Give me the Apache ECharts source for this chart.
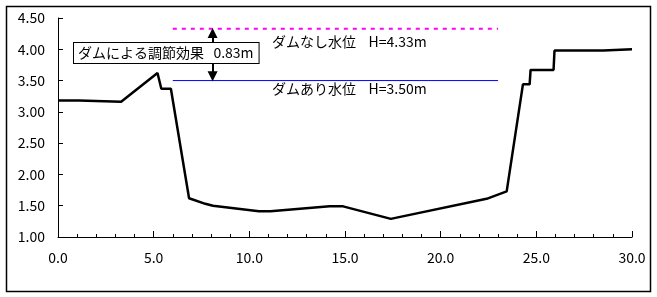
<!DOCTYPE html>
<html>
<head>
<meta charset="utf-8">
<script src="https://cdn.jsdelivr.net/npm/echarts@6/dist/echarts.min.js"></script>
<style>
  html, body { margin: 0; padding: 0; background: #fff; }
  #main { width: 657px; height: 297px; }
</style>
</head>
<body>
<div id="main"></div>
<script>
// 河床断面（距離, 標高）
var profileX = [0, 1.1, 1.15, 3.3, 5.2, 5.4, 5.9, 6.85, 7.7, 8.1, 10.5, 11.1, 14.2, 14.9, 17.4, 17.7, 22.4, 23.45, 24.3, 24.65, 24.7, 25.9, 25.95, 28.5, 28.55, 30.0];
var profileY = [3.18, 3.18, 3.16, 3.16, 3.62, 3.37, 3.37, 1.62, 1.53, 1.50, 1.41, 1.41, 1.49, 1.49, 1.29, 1.31, 1.61, 1.73, 3.44, 3.44, 3.67, 3.67, 3.98, 3.98, 4.00, 4.00];

// 水位線
var levelX = [6, 23];
var noDamLevel = 4.33;
var damLevel = 3.50;

// 調節効果の矢印
var arrowX = 8.08;
var arrowY = [4.26, 3.57];

var FONT = '"Noto Sans CJK JP", sans-serif';

var profileData = [];
for (var i = 0; i < profileX.length; i++) {
    profileData.push([profileX[i], profileY[i]]);
}

var chartDom = document.getElementById('main');
var myChart = echarts.init(chartDom);
var option;

option = {
    animation: false,
    backgroundColor: '#fff',
    grid: {
        left: 58,
        top: 18,
        right: 25,
        bottom: 60
    },
    xAxis: {
        type: 'value',
        min: 0,
        max: 30,
        interval: 5,
        axisLine: { lineStyle: { color: '#000', width: 1 } },
        axisTick: { inside: true, length: 6, lineStyle: { color: '#000' } },
        minorTick: { show: true, splitNumber: 5, length: 3, lineStyle: { color: '#000' } },
        splitLine: { show: false },
        axisLabel: {
            color: '#000',
            fontSize: 14,
            fontFamily: FONT,
            margin: 14,
            formatter: function (v) { return v.toFixed(1); }
        }
    },
    yAxis: {
        type: 'value',
        min: 1,
        max: 4.5,
        interval: 0.5,
        axisLine: { show: true, lineStyle: { color: '#000', width: 1 } },
        axisTick: { show: true, inside: true, length: 5, lineStyle: { color: '#000' } },
        splitLine: { show: false },
        axisLabel: {
            color: '#000',
            fontSize: 14,
            fontFamily: FONT,
            margin: 13,
            formatter: function (v) { return v.toFixed(2); }
        }
    },
    series: [
        {
            name: '河床',
            type: 'line',
            data: profileData,
            symbol: 'none',
            z: 3,
            lineStyle: { color: '#000', width: 2.5 }
        },
        {
            name: 'ダムなし水位',
            type: 'line',
            data: [[levelX[0], noDamLevel], [levelX[1], noDamLevel]],
            symbol: 'none',
            lineStyle: { color: '#ff00ff', width: 2, type: [4, 5] }
        },
        {
            name: 'ダムあり水位',
            type: 'line',
            data: [[levelX[0], damLevel], [levelX[1], damLevel]],
            symbol: 'none',
            lineStyle: { color: '#0000ff', width: 1 },
            markLine: {
                silent: true,
                symbol: ['triangle', 'triangle'],
                symbolSize: [10, 10],
                label: { show: false },
                lineStyle: { color: '#000', width: 2, type: 'solid' },
                data: [[{ coord: [arrowX, arrowY[0]] }, { coord: [arrowX, arrowY[1]] }]]
            }
        }
    ],
    graphic: [
        {
            type: 'rect',
            shape: { x: 6.5, y: 6.5, width: 644, height: 285 },
            style: { fill: 'none', stroke: '#000', lineWidth: 1.5 },
            silent: true
        },
        {
            type: 'text',
            left: 73,
            top: 42,
            z: 100,
            style: {
                text: 'ダムによる調節効果   0.83m',
                font: '14px ' + FONT,
                fill: '#000',
                backgroundColor: '#fff',
                borderColor: '#000',
                borderWidth: 1,
                padding: [3, 5, 3, 4]
            }
        },
        {
            type: 'text',
            left: 272,
            top: 35,
            style: { text: 'ダムなし水位    H=4.33m', font: '14px ' + FONT, fill: '#000' }
        },
        {
            type: 'text',
            left: 272,
            top: 82,
            style: { text: 'ダムあり水位    H=3.50m', font: '14px ' + FONT, fill: '#000' }
        }
    ]
};

option && myChart.setOption(option);
</script>
</body>
</html>
